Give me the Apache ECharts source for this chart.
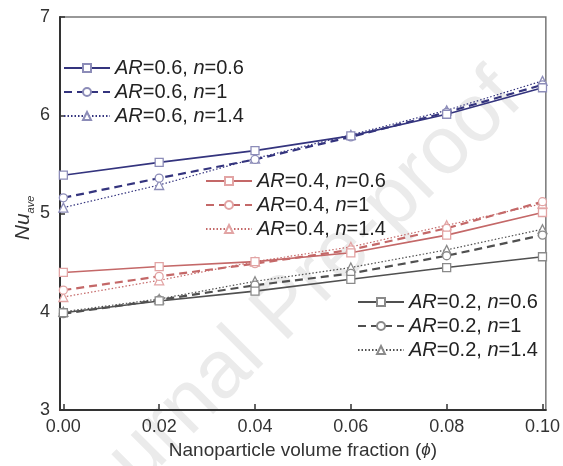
<!DOCTYPE html>
<html>
<head>
<meta charset="utf-8">
<script src="https://cdn.jsdelivr.net/npm/echarts@6/dist/echarts.min.js"></script>
<style>html,body{margin:0;padding:0;background:#fff}#c{width:563px;height:466px}</style>
</head>
<body>
<div id="c"></div>
<script>
// ---- data ----
const phi = [0.00, 0.02, 0.04, 0.06, 0.08, 0.10];
const xTicks = [0.00, 0.02, 0.04, 0.06, 0.08, 0.10];
const yTicks = [3, 4, 5, 6, 7];

const ar06_n06 = [5.39, 5.52, 5.64, 5.79, 6.01, 6.28];
const ar06_n10 = [5.16, 5.36, 5.55, 5.78, 6.03, 6.31];
const ar06_n14 = [5.06, 5.29, 5.56, 5.80, 6.05, 6.35];

const ar04_n06 = [4.40, 4.46, 4.51, 4.60, 4.78, 5.01];
const ar04_n10 = [4.22, 4.36, 4.49, 4.63, 4.85, 5.12];
const ar04_n14 = [4.15, 4.32, 4.51, 4.66, 4.88, 5.10];

const ar02_n06 = [3.99, 4.11, 4.21, 4.33, 4.45, 4.56];
const ar02_n10 = [3.98, 4.12, 4.27, 4.39, 4.57, 4.78];
const ar02_n14 = [4.00, 4.13, 4.31, 4.45, 4.63, 4.84];

const names06 = ['AR=0.6, n=0.6', 'AR=0.6, n=1', 'AR=0.6, n=1.4'];
const names04 = ['AR=0.4, n=0.6', 'AR=0.4, n=1', 'AR=0.4, n=1.4'];
const names02 = ['AR=0.2, n=0.6', 'AR=0.2, n=1', 'AR=0.2, n=1.4'];

// ---- styling ----
const FONT = 'Liberation Sans, Arial, sans-serif';
const groups = [
  {names: names06, vals: [ar06_n06, ar06_n10, ar06_n14], line: '#34347e', mark: '#8c8cb8'},
  {names: names04, vals: [ar04_n06, ar04_n10, ar04_n14], line: '#c46868', mark: '#e2a4a4'},
  {names: names02, vals: [ar02_n06, ar02_n10, ar02_n14], line: '#505050', mark: '#8a8a8a'}
];
const symbols = ['rect', 'circle', 'triangle'];
const dash = ['solid', [8, 5], [1.5, 2]];
const widths = [1.6, 2.2, 1.2];
const sizes = [8, 8, 9];

const series = [];
groups.forEach(g => {
  g.vals.forEach((v, k) => {
    series.push({
      type: 'line',
      name: g.names[k],
      data: phi.map((x, i) => [x, v[i]]),
      symbol: symbols[k],
      symbolSize: sizes[k],
      lineStyle: {color: g.line, width: widths[k], type: dash[k]},
      itemStyle: {color: '#fff', borderColor: g.mark, borderWidth: 1.3},
      emphasis: {disabled: true},
      z: 3 - k
    });
  });
});

const richLegend = {
  i: {fontStyle: 'italic', fontSize: 20, lineHeight: 19, fontFamily: FONT, color: '#222'},
  t: {fontSize: 20, lineHeight: 19, fontFamily: FONT, color: '#222'}
};
function legendFmt(name) {
  const m = name.match(/AR=([\d.]+), n=([\d.]+)/);
  return '{i|AR}{t|=' + m[1] + ', }{i|n}{t|=' + m[2] + '}';
}
function mkLegend(names, left, top) {
  return {
    data: names, left: left, top: top, orient: 'vertical', padding: 0,
    itemWidth: 46, itemHeight: 10, itemGap: 4,
    selectedMode: false, formatter: legendFmt,
    textStyle: {rich: richLegend, fontSize: 20, lineHeight: 19}
  };
}

const chart = echarts.init(document.getElementById('c'), null, {renderer: 'canvas'});
chart.setOption({
  animation: false,
  backgroundColor: '#fff',
  grid: {left: 60, right: 13, top: 17, bottom: 56, show: true, borderColor: '#777', borderWidth: 1.5},
  legend: [mkLegend(names06, 63, 58), mkLegend(names04, 205, 171), mkLegend(names02, 357, 292)],
  xAxis: {
    type: 'value', min: -0.0007, max: 0.1007,
    axisLine: {show: true, onZero: false, lineStyle: {color: '#333', width: 2}},
    axisTick: {show: true, inside: true, length: 6, customValues: xTicks, lineStyle: {color: '#333', width: 1.5}},
    axisLabel: {customValues: xTicks, formatter: v => v.toFixed(2), fontSize: 18, fontFamily: FONT, color: '#333', margin: 8},
    splitLine: {show: false},
    name: '{t|Nanoparticle volume fraction (}{i|ϕ}{t|)}',
    nameLocation: 'middle', nameGap: 27,
    nameTextStyle: {rich: {
      t: {fontSize: 19, fontFamily: FONT, color: '#333'},
      i: {fontSize: 17, fontStyle: 'italic', fontFamily: FONT, color: '#333'}
    }}
  },
  yAxis: {
    type: 'value', min: 3, max: 7, interval: 1,
    axisLine: {show: true, onZero: false, lineStyle: {color: '#333', width: 2}},
    axisTick: {show: true, inside: true, length: 5, lineStyle: {color: '#333', width: 1.5}},
    axisLabel: {fontSize: 18, fontFamily: FONT, color: '#333', margin: 10},
    splitLine: {show: false}
  },
  graphic: [
    {type: 'text', x: 285, y: 310, rotation: Math.PI / 4, z: -10, silent: true,
     style: {text: 'Journal Pre-proof', fontSize: 82, fontFamily: FONT, fill: '#ebebeb', align: 'center', verticalAlign: 'middle'}},
    {type: 'text', x: 23, y: 218, rotation: Math.PI / 2,
     style: {text: '{n|Nu}{s|ave}', align: 'center', verticalAlign: 'middle',
       rich: {
         n: {fontSize: 21, fontStyle: 'italic', fontFamily: FONT, fill: '#333', lineHeight: 26, verticalAlign: 'middle'},
         s: {fontSize: 11, fontStyle: 'italic', fontFamily: FONT, fill: '#333', lineHeight: 26, verticalAlign: 'bottom'}
       }}}
  ],
  series: series
});
</script>
</body>
</html>
